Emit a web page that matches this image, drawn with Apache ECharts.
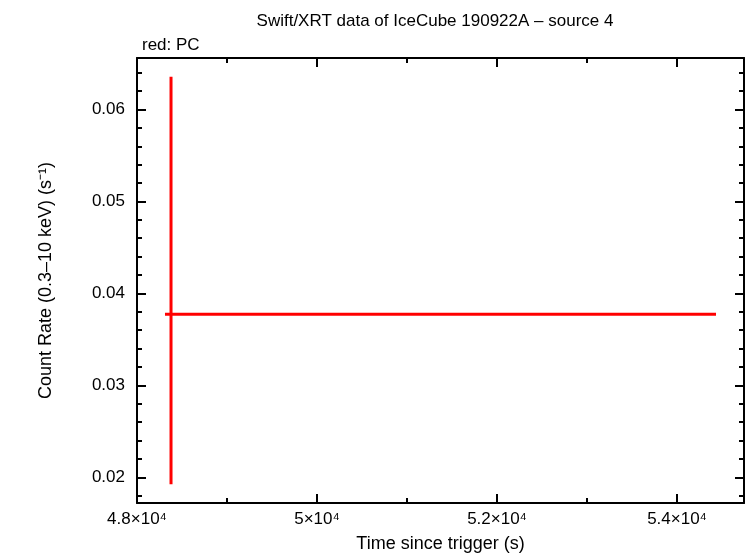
<!DOCTYPE html>
<html><head><meta charset="utf-8">
<script src="https://cdn.jsdelivr.net/npm/echarts@6/dist/echarts.min.js"></script>
<style>body{margin:0}#c{width:746px;height:558px}</style></head>
<body><div id="c"></div>
<script>
const xMajor=[48000,50000,52000,54000];
const xMinor=[49000,51000,53000];
const yMajor=[0.02,0.03,0.04,0.05,0.06];
const yMinor=[0.018,0.022,0.024,0.026,0.028,0.032,0.034,0.036,0.038,0.042,0.044,0.046,0.048,0.052,0.054,0.056,0.058,0.062,0.064];
const pointX=[48378];
const xErrLow=[48311];
const xErrHigh=[54433];
const pointY=[0.03774];
const yErrLow=[0.01925];
const yErrHigh=[0.06356];
const sup={'0':'⁰','1':'¹','2':'²','3':'³','4':'⁴','5':'⁵','6':'⁶','7':'⁷','8':'⁸','9':'⁹'};
function sci(v){const e=Math.floor(Math.log10(v));const m=+(v/Math.pow(10,e)).toFixed(2);return m+'×10'+String(e).split('').map(c=>sup[c]).join('');}
const F='Liberation Sans, Arial, sans-serif';
const X=[0,1,2,3].map(i=>({type:'value',min:48000,max:54744,position:i%2?'top':'bottom',
 axisLine:{show:i<2,lineStyle:{color:'#000',width:2}},splitLine:{show:false},
 axisTick:{inside:true,length:i<2?9:5,lineStyle:{color:'#000',width:2},customValues:i<2?xMajor:xMinor},
 axisLabel:{show:i===0,customValues:xMajor,formatter:sci,color:'#000',fontSize:17,fontFamily:F,margin:8},
 name:i===0?'Time since trigger (s)':'',nameLocation:'middle',nameGap:32,nameTextStyle:{color:'#000',fontSize:18,fontFamily:F}}));
const Y=[0,1,2,3].map(i=>({type:'value',min:0.0172,max:0.0656,position:i%2?'right':'left',
 axisLine:{show:i<2,lineStyle:{color:'#000',width:2}},splitLine:{show:false},
 axisTick:{inside:true,length:i<2?9:5,lineStyle:{color:'#000',width:2},customValues:i<2?yMajor:yMinor},
 axisLabel:{show:i===0,customValues:yMajor,formatter:v=>v.toFixed(2),color:'#000',fontSize:17,fontFamily:F,margin:12},
 name:i===0?'Count Rate (0.3–10 keV) (s⁻¹)':'',nameLocation:'middle',nameGap:82,nameTextStyle:{color:'#000',fontSize:18,fontFamily:F}}));
const data=pointX.map((x,i)=>[x,pointY[i],xErrLow[i],xErrHigh[i],yErrLow[i],yErrHigh[i]]);
const chart=echarts.init(document.getElementById('c'));
chart.setOption({animation:false,backgroundColor:'#fff',
 title:[{text:'Swift/XRT data of IceCube 190922A – source 4',left:430,top:8,textAlign:'center',textStyle:{fontWeight:'normal',fontSize:17,fontFamily:F,color:'#000'}},
  {text:'red: PC',left:137,top:32,textStyle:{fontWeight:'normal',fontSize:17,fontFamily:F,color:'#000'}}],
 grid:{left:137,right:2,top:58,bottom:48},
 xAxis:X,yAxis:Y,
 series:[{type:'custom',xAxisIndex:0,yAxisIndex:0,data:data,clip:true,
  renderItem:(p,api)=>{
   const a=api.coord([api.value(2),api.value(1)]),b=api.coord([api.value(3),api.value(1)]);
   const d=api.coord([api.value(0),api.value(4)]),e=api.coord([api.value(0),api.value(5)]);
   const st={stroke:'#f00',lineWidth:3};
   return {type:'group',children:[{type:'line',shape:{x1:a[0],y1:a[1],x2:b[0],y2:b[1]},style:st},
    {type:'line',shape:{x1:d[0],y1:d[1],x2:e[0],y2:e[1]},style:st}]};}}]});
</script></body></html>
